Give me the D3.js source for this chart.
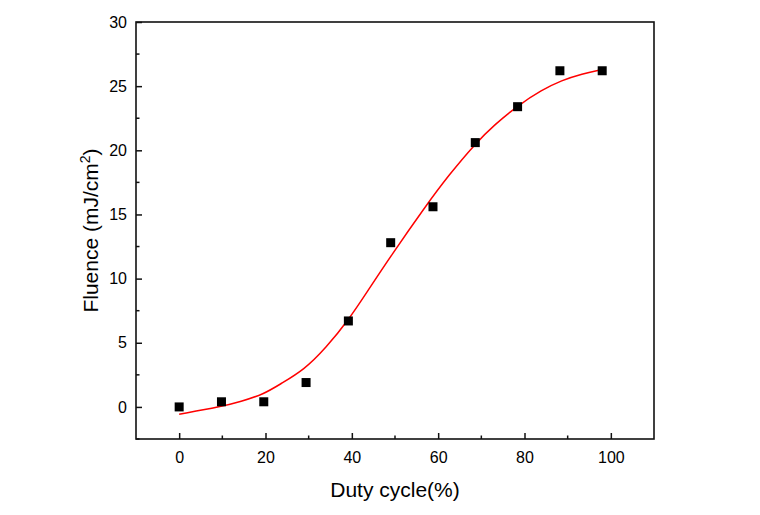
<!DOCTYPE html>
<html>
<head>
<meta charset="utf-8">
<script src="https://cdn.jsdelivr.net/npm/d3@7"></script>
<style>
  body { margin: 0; background: #fff; }
  #chart text { font-family: Arial, "Liberation Sans", sans-serif; fill: #000; }
</style>
</head>
<body>
<div id="chart"></div>
<script>
// measured points
const dutyCycle = [0, 9.8, 19.6, 29.4, 39.2, 49, 58.8, 68.6, 78.4, 88.2, 98];
const fluence = [0, 0.4, 0.4, 1.9, 6.7, 12.8, 15.6, 20.6, 23.4, 26.2, 26.2];

// fitted curve
const fitX = [0, 9.8, 14.2, 19.6, 23.5, 28.9, 34, 39.4, 43.6, 49, 57.2, 62.3, 68.8, 73.1, 78.5, 84, 88.6, 93.3, 98];
const fitY = [-0.57, 0.02, 0.41, 0.99, 1.8, 2.88, 4.6, 6.85, 9.0, 11.75, 15.7, 18.0, 20.6, 22.0, 23.5, 24.7, 25.45, 25.95, 26.3];

const xTicks = [0, 20, 40, 60, 80, 100];
const xMinor = [10, 30, 50, 70, 90];
const yTicks = [0, 5, 10, 15, 20, 25, 30];
const yMinor = [-2.5, 2.5, 7.5, 12.5, 17.5, 22.5, 27.5];

const W = 760, H = 515;
const margin = {top: 22, right: 106, bottom: 76, left: 136};
const width = W - margin.left - margin.right,
      height = H - margin.top - margin.bottom;

const svg = d3.select("#chart").append("svg")
  .attr("width", W)
  .attr("height", H);

const g = svg.append("g")
  .attr("transform", "translate(" + margin.left + "," + margin.top + ")");

const x = d3.scaleLinear().domain([-10, 110]).range([0, width]);
const y = d3.scaleLinear().domain([-2.5, 30]).range([height, 0]);

// frame
g.append("rect")
  .attr("x", 0).attr("y", 0)
  .attr("width", width).attr("height", height)
  .attr("fill", "none")
  .attr("stroke", "#111")
  .attr("stroke-width", 1.6);

// x axis, ticks pointing inward
const xAxis = g.append("g")
  .attr("transform", "translate(0," + height + ")")
  .call(d3.axisBottom(x).tickValues(xTicks).tickSizeInner(-6).tickSizeOuter(0).tickPadding(13));
xAxis.select(".domain").remove();
xAxis.selectAll("line").attr("stroke", "#111").attr("stroke-width", 1.5);
xAxis.selectAll("text").style("font-size", "16px");

g.append("g")
  .attr("transform", "translate(0," + height + ")")
  .selectAll("line").data(xMinor).enter().append("line")
  .attr("x1", d => x(d)).attr("x2", d => x(d))
  .attr("y1", 0).attr("y2", -3.5)
  .attr("stroke", "#111").attr("stroke-width", 1.5);

// y axis
const yAxis = g.append("g")
  .call(d3.axisLeft(y).tickValues(yTicks).tickSizeInner(-6).tickSizeOuter(0).tickPadding(9));
yAxis.select(".domain").remove();
yAxis.selectAll("line").attr("stroke", "#111").attr("stroke-width", 1.5);
yAxis.selectAll("text").style("font-size", "16px");

g.append("g")
  .selectAll("line").data(yMinor).enter().append("line")
  .attr("x1", 0).attr("x2", 3.5)
  .attr("y1", d => y(d)).attr("y2", d => y(d))
  .attr("stroke", "#111").attr("stroke-width", 1.5);

// fit line
const fitData = fitX.map((v, i) => ({x: v, y: fitY[i]}));
g.append("path")
  .datum(fitData)
  .attr("fill", "none")
  .attr("stroke", "#ff0000")
  .attr("stroke-width", 1.5)
  .attr("d", d3.line().x(d => x(d.x)).y(d => y(d.y)).curve(d3.curveBasis));

// square markers
const sz = 9;
g.selectAll(".pt")
  .data(dutyCycle)
  .enter().append("rect")
  .attr("class", "pt")
  .attr("x", (d) => x(d) - sz / 2)
  .attr("y", (d, i) => y(fluence[i]) - sz / 2)
  .attr("width", sz)
  .attr("height", sz)
  .attr("fill", "#000");

// axis titles
g.append("text")
  .attr("x", width / 2)
  .attr("y", height + 58)
  .attr("text-anchor", "middle")
  .style("font-size", "21px")
  .text("Duty cycle(%)");

const yt = g.append("text")
  .attr("transform", "translate(-38," + (height / 2) + ") rotate(-90)")
  .attr("text-anchor", "middle")
  .style("font-size", "21px");
yt.append("tspan").text("Fluence (mJ/cm");
yt.append("tspan").attr("dy", -8).style("font-size", "14px").text("2");
yt.append("tspan").attr("dy", 8).text(")");
</script>
</body>
</html>
